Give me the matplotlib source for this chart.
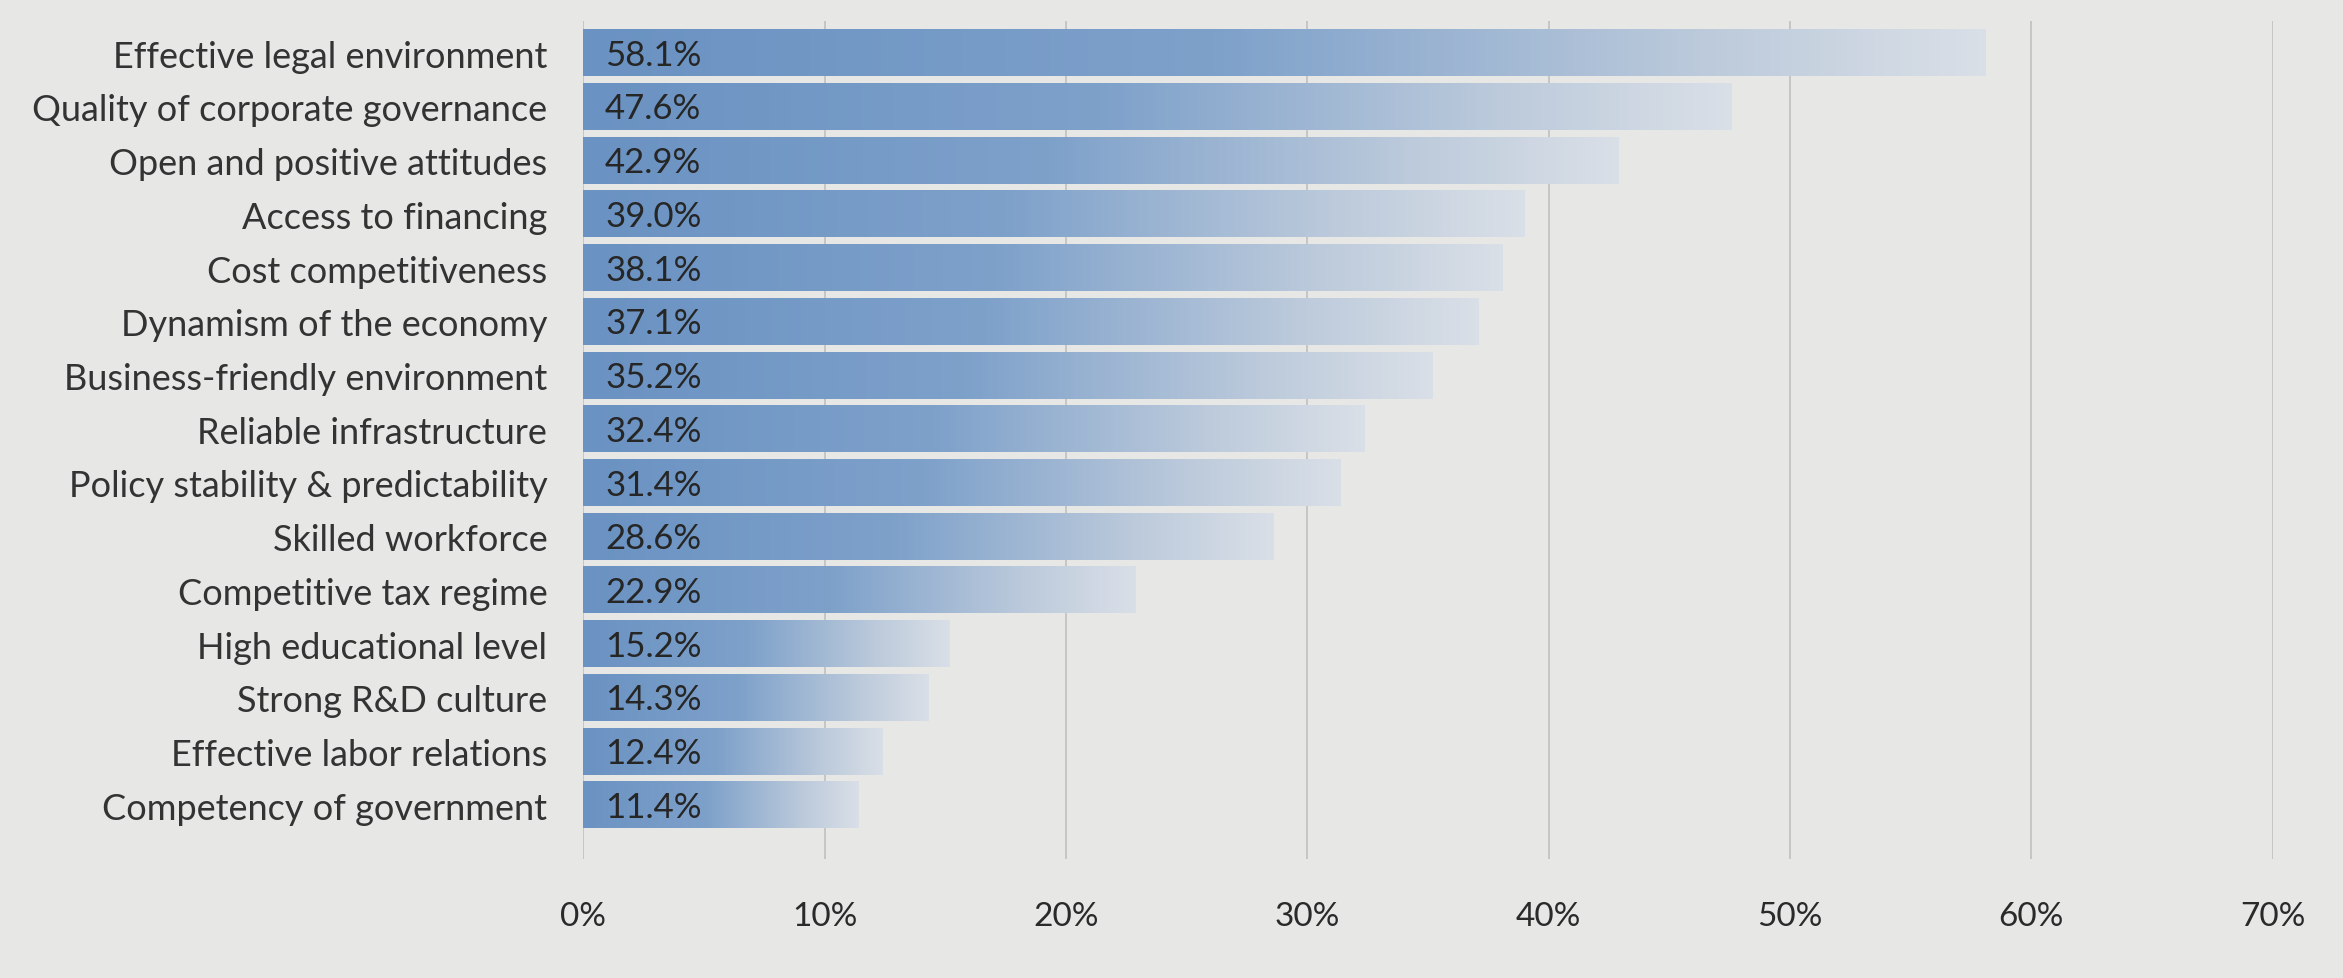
import numpy as np
import matplotlib
matplotlib.use("Agg")
import matplotlib.pyplot as plt
from matplotlib.colors import LinearSegmentedColormap

categories = [
    "Effective legal environment",
    "Quality of corporate governance",
    "Open and positive attitudes",
    "Access to financing",
    "Cost competitiveness",
    "Dynamism of the economy",
    "Business-friendly environment",
    "Reliable infrastructure",
    "Policy stability & predictability",
    "Skilled workforce",
    "Competitive tax regime",
    "High educational level",
    "Strong R&D culture",
    "Effective labor relations",
    "Competency of government",
]
values = [58.1, 47.6, 42.9, 39.0, 38.1, 37.1, 35.2, 32.4, 31.4, 28.6, 22.9, 15.2, 14.3, 12.4, 11.4]
xticks = [0, 10, 20, 30, 40, 50, 60, 70]
xtick_labels = [f"{t}%" for t in xticks]

plt.rcParams['font.family'] = ['Lato', 'DejaVu Sans']

bg = "#e7e7e6"
fig = plt.figure(figsize=(23.43, 9.79), dpi=100, facecolor=bg)
ax = fig.add_axes([0.249, 0.1216, 0.721, 0.856])
ax.set_facecolor(bg)

cmap = LinearSegmentedColormap.from_list(
    "barfade", [(0.0, "#6a92c2"), (0.45, "#7ea1ca"), (0.8, "#bccadb"), (1.0, "#d9dfe7")])
grad = np.linspace(0, 1, 256).reshape(1, -1)

h = 0.86
y = np.arange(len(categories))
for yi, v in zip(y, values):
    ax.imshow(grad, cmap=cmap, aspect="auto", extent=(0, v, yi + h / 2, yi - h / 2),
              interpolation="bilinear", zorder=2)
    ax.text(0.9, yi + 0.03, f"{v:.1f}%", va="center", ha="left", fontsize=25,
            color="#262626", zorder=3)

ax.set_xlim(0, 70)
ax.set_ylim(len(categories) - 1 + 1.0, -0.6)
ax.set_yticks(y)
ax.set_yticklabels(categories, fontsize=26, color="#333333")
ax.set_xticks(xticks)
ax.set_xticklabels(xtick_labels, fontsize=24, color="#2a2a2a")
ax.tick_params(axis="y", length=0, pad=26)
ax.tick_params(axis="x", length=0, pad=30)
ax.xaxis.grid(True, color="#bdbdbd", linewidth=1.1, zorder=0)
ax.set_axisbelow(True)
for s in ax.spines.values():
    s.set_visible(False)

fig.savefig("out.png", dpi=100, facecolor=bg)
